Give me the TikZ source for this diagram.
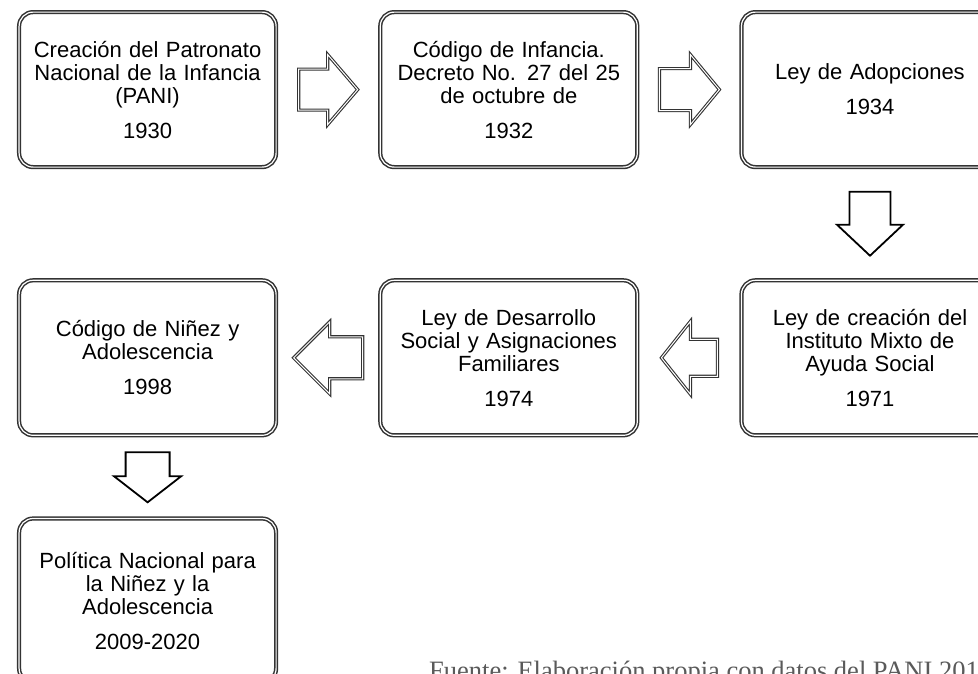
\documentclass[tikz,border=0pt]{standalone}
\usepackage{fontspec}
\setmainfont{Liberation Sans}
\newfontfamily\notefont{Liberation Serif}
\usetikzlibrary{matrix,calc}
\definecolor{boxline}{HTML}{333333}
\definecolor{notegray}{HTML}{5A5A5A}
\tikzset{
  stage/.style={draw=boxline,double,line width=1.5pt,double distance=1.2pt,
    rounded corners=14pt,minimum width=257pt,minimum height=155pt,
    text width=250pt,align=center,inner sep=0pt,outer sep=0pt,
    font=\fontsize{22}{23}\selectfont},
  hollowh/.style={draw=boxline,double,line width=1.1pt,double distance=1pt},
  hollowv/.style={draw=black,line width=1.8pt},
  pics/blockarrow/.style n args={4}{code={
    \draw[pic actions] ({-#1/2},{-#4/2}) -- ({#1/2-#2},{-#4/2}) -- ({#1/2-#2},{-#3/2})
      -- ({#1/2},0) -- ({#1/2-#2},{#3/2}) -- ({#1/2-#2},{#4/2}) -- ({-#1/2},{#4/2}) -- cycle;
  }}
}

\begin{document}
\begin{tikzpicture}[x=1pt,y=-1pt]
    \useasboundingbox (0,0) rectangle (978,673);
    \clip (0,0) rectangle (978,673);
    \fill[white] (0,0) rectangle (978,673);
    \matrix(hist)[matrix of nodes,matrix anchor=north west,
        inner sep=0pt,outer sep=0pt,
        nodes={stage,anchor=center},
        row 3/.style={nodes={minimum height=164pt}},
        column sep=100pt,row sep=109pt
    ] at (17,10) {
 {Creación del Patronato\\Nacional de la Infancia\\(PANI)\\[12pt]1930}
   & {Código de Infancia.\\Decreto No. 27 del 25\\de octubre de\\[12pt]1932}
   & {Ley de Adopciones\\[12pt]1934} \\
 {Código de Niñez y\\Adolescencia\\[12pt]1998}
   & {Ley de Desarrollo\\Social y Asignaciones\\Familiares\\[12pt]1974}
   & {Ley de creación del\\Instituto Mixto de\\Ayuda Social\\[12pt]1971} \\[-30pt]
 {Política Nacional para\\la Niñez y la\\Adolescencia\\[12pt]2009-2020}
   & & \\
    };
    \pic[hollowh] at ($(hist-1-1.east)!0.5!(hist-1-2.west)$) {blockarrow={59}{30}{70}{41}};
    \pic[hollowh] at ($(hist-1-2.east)!0.5!(hist-1-3.west)$) {blockarrow={60}{29}{70}{42}};
    \pic[hollowv,rotate=-90] at ($(hist-1-3.south)!0.5!(hist-2-3.north)$) {blockarrow={64}{31}{66}{41}};
    \pic[hollowh,rotate=180] at ($(hist-2-3.west)!0.5!(hist-2-2.east)$) {blockarrow={56}{29}{73}{37}};
    \pic[hollowh,rotate=180] at ($(hist-2-2.west)!0.5!(hist-2-1.east)$) {blockarrow={69}{36}{72}{42}};
    \pic[hollowv,rotate=-90] at ($(hist-2-1.south)+(0,42)$) {blockarrow={50}{26}{67}{44}};
    \node(note)[anchor=base west,inner sep=0pt,text=notegray,
        font=\notefont\fontsize{26.5}{28}\selectfont] at (429,679)
        {Fuente: Elaboración propia con datos del PANI 201};
\end{tikzpicture}
\end{document}
